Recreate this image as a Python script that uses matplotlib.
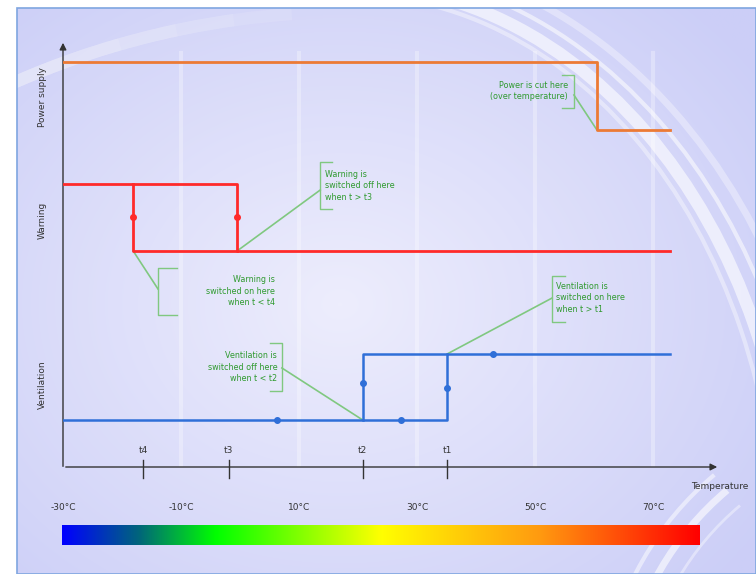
import numpy as np
import matplotlib.pyplot as plt
from matplotlib.patches import Arc, Rectangle
from matplotlib.colors import LinearSegmentedColormap

# temperature scale (deg C) and the step curves, heights in an arbitrary level unit
temp_ticks = [-30, -10, 10, 30, 50, 70]
temp_labels = ['-30°C', '-10°C', '10°C', '30°C', '50°C', '70°C']

power_x = [-30, 60.5, 60.5, 72.9]
power_y = [405, 405, 337, 337]

warning_x = [-30, -0.5, -0.5, 72.9]
warning_y = [283, 283, 216, 216]
warning_loop_x = [-18.1, -18.1, -0.5]
warning_loop_y = [283, 216, 216]
warning_dots_x = [-18.1, -0.5]
warning_dots_y = [250, 250]

vent_x = [-30, 35.1, 35.1, 72.9]
vent_y = [47, 47, 113, 113]
vent_loop_x = [20.8, 20.8, 35.1]
vent_loop_y = [47, 113, 113]
vent_dots_x = [6.3, 27.3, 20.8, 35.1, 42.9]
vent_dots_y = [47, 47, 84, 79, 113]

thresh_x = [-16.4, -1.9, 20.8, 35.1]
thresh_labels = ['t4', 't3', 't2', 't1']

row_names = ['Power supply', 'Warning', 'Ventilation']
row_centers = [370, 247, 82]

W, H = 756, 574
fig = plt.figure(figsize=(W / 100, H / 100), dpi=100, facecolor='white')

# ---- decorative background
bg = fig.add_axes([0, 0, 1, 1], zorder=0)
bg.set_xlim(0, W)
bg.set_ylim(H, 0)
bg.axis('off')
yy, xx = np.mgrid[0:H, 0:W]
d = np.sqrt(((xx - 330) / 520.0) ** 2 + ((yy - 300) / 420.0) ** 2)
d = np.clip(d, 0, 1)
c_in = np.array([0.93, 0.93, 0.99])
c_out = np.array([0.80, 0.81, 0.97])
img = c_in[None, None, :] * (1 - d[..., None]) + c_out[None, None, :] * d[..., None]
bg.imshow(img, extent=(17, W, H, 8), aspect='auto', zorder=0)
panel = Rectangle((17, 8), W - 17, H - 8, fill=False, ec='#7fa6e0', lw=1.2, zorder=3)
bg.add_patch(panel)


def swoosh(center, w, h, t1, t2, lw, a):
    arc = Arc(center, w, h, theta1=t1, theta2=t2, color='white', lw=lw, alpha=a, zorder=1)
    bg.add_patch(arc)
    arc.set_clip_path(panel)


# big swoosh over the top and down the right side
for (dw, dh, lw, a) in [(0, 0, 9, 0.6), (40, 30, 3, 0.55), (-30, -20, 3, 0.4),
                        (80, 60, 5, 0.35)]:
    swoosh((350, 560), 886 + dw, 1150 + dh, 265, 360, lw, a)
# faint band at top-left, fading out to the right
for t2 in [250, 254, 258, 262, 266]:
    swoosh((350, 847), 1670, 1670, 236, t2, 9, 0.1)
# small swoosh at bottom-right
for (r, lw, a) in [(300, 5, 0.6), (320, 3, 0.5), (280, 2, 0.4)]:
    swoosh((920, 720), 2 * r, 2 * r, 150, 230, lw, a)

# ---- main chart
x_left, x_right = 63, 720
y_bot, y_top = 467, 40
ax = fig.add_axes([x_left / W, 1 - y_bot / H, (x_right - x_left) / W, (y_bot - y_top) / H],
                  zorder=2)
ax.patch.set_alpha(0)
px_per_deg = 5.9
ax.set_xlim(-30, -30 + (x_right - x_left) / px_per_deg)
ax.set_ylim(0, y_bot - y_top)
for s in ax.spines.values():
    s.set_visible(False)
ax.set_xticks([])
ax.set_yticks([])

# faint vertical gridlines
for t in temp_ticks[1:]:
    ax.axvline(t, ymin=0, ymax=0.97, color='white', lw=3, alpha=0.3, zorder=1)

# axes with arrows
ax.annotate('', xy=(1, 0), xytext=(0, 0), xycoords='axes fraction',
            arrowprops=dict(arrowstyle='-|>', color='#333333', lw=1, mutation_scale=10))
ax.annotate('', xy=(0, 1), xytext=(0, -0.005), xycoords='axes fraction',
            arrowprops=dict(arrowstyle='-|>', color='#333333', lw=1, mutation_scale=10))

# step curves
ax.plot(power_x, power_y, color='#ec7a35', lw=2, zorder=3)
ax.plot(warning_x, warning_y, color='#ff2a2a', lw=2, zorder=3)
ax.plot(warning_loop_x, warning_loop_y, color='#ff2a2a', lw=2, zorder=3)
ax.plot(warning_dots_x, warning_dots_y, 'o', color='#ff2a2a', ms=4, zorder=4)
ax.plot(vent_x, vent_y, color='#2f6fd8', lw=1.8, zorder=3)
ax.plot(vent_loop_x, vent_loop_y, color='#2f6fd8', lw=1.8, zorder=3)
ax.plot(vent_dots_x, vent_dots_y, 'o', color='#2f6fd8', ms=4, zorder=4)

# threshold ticks on the temperature axis
for tx, tl in zip(thresh_x, thresh_labels):
    ax.plot([tx, tx], [-11, 7], color='#333333', lw=1, clip_on=False, zorder=3)
    ax.text(tx, 12, tl, ha='center', va='bottom', fontsize=6.5, color='#333333')

# row labels
for name, yc in zip(row_names, row_centers):
    ax.text(-30 - 21 / px_per_deg, yc, name, rotation=90, ha='center', va='center',
            fontsize=6.5, color='#333333')
ax.text(1.0, -0.045, 'Temperature', transform=ax.transAxes, ha='center', va='center',
        fontsize=6.5, color='#333333')

# temperature labels
for t, lab in zip(temp_ticks, temp_labels):
    ax.text(t, -0.096, lab, transform=ax.get_xaxis_transform(), ha='center', va='center',
            fontsize=6.5, color='#333333')

# callouts
g_txt = '#2f9a2f'
g_line = '#80c880'


def bracket(x, y0, y1, x_end):
    ax.plot([x_end, x, x, x_end], [y0, y0, y1, y1], color=g_line, lw=1, zorder=2)


ax.text(14.4, 281, 'Warning is\nswitched off here\nwhen t > t3', ha='left', va='center',
        fontsize=5.8, color=g_txt, linespacing=1.3)
bracket(13.6, 305, 258, 15.6)
ax.plot([13.6, -0.5], [277, 216], color=g_line, lw=1.2, zorder=2)

ax.text(5.9, 176, 'Warning is\nswitched on here\nwhen t < t4', ha='right', va='center',
        fontsize=5.8, color=g_txt, linespacing=1.3)
bracket(-13.9, 199, 152, -10.7)
ax.plot([-18.1, -13.9], [216, 178], color=g_line, lw=1.2, zorder=2)

ax.text(6.3, 100, 'Ventilation is\nswitched off here\nwhen t < t2', ha='right', va='center',
        fontsize=5.8, color=g_txt, linespacing=1.3)
bracket(7.1, 124, 76, 5.1)
ax.plot([7.1, 20.8], [99, 47], color=g_line, lw=1.2, zorder=2)

ax.text(53.6, 169, 'Ventilation is\nswitched on here\nwhen t > t1', ha='left', va='center',
        fontsize=5.8, color=g_txt, linespacing=1.3)
bracket(52.9, 191, 145, 55.1)
ax.plot([52.9, 35.1], [169, 113], color=g_line, lw=1.2, zorder=2)

ax.text(55.6, 376, 'Power is cut here\n(over temperature)', ha='right', va='center',
        fontsize=5.8, color=g_txt, linespacing=1.3)
bracket(56.6, 392, 359, 54.6)
ax.plot([56.6, 60.5], [372, 337], color=g_line, lw=1.2, zorder=2)

# ---- colour bar
cmap = LinearSegmentedColormap.from_list(
    'temp', [(0, '#0000ff'), (0.12, '#00667a'), (0.24, '#00ff00'),
             (0.5, '#ffff00'), (0.75, '#ff9a10'), (1.0, '#ff0000')])
cax = fig.add_axes([62 / W, 1 - 545 / H, 638 / W, 20 / H], zorder=2)
cax.imshow(np.linspace(0, 1, 256)[None, :], aspect='auto', cmap=cmap)
cax.axis('off')

fig.savefig('out.png', dpi=100, facecolor='white')
